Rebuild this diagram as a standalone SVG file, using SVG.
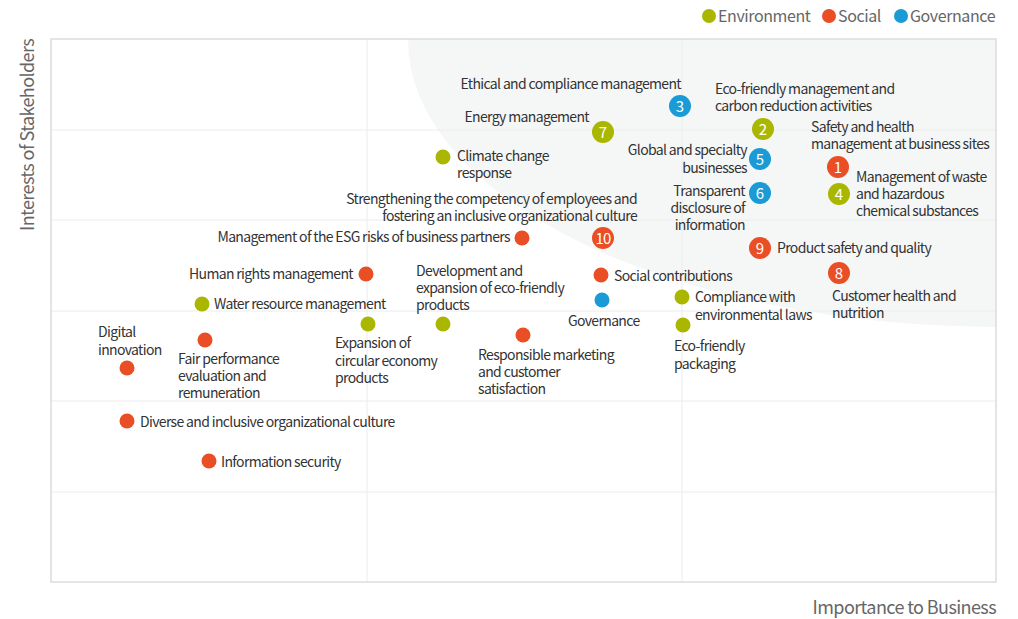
<svg xmlns="http://www.w3.org/2000/svg" width="1018" height="619" viewBox="0 0 1018 619">
<style>
text{font-family:"Noto Sans CJK KR","Noto Sans",sans-serif;}
.lb{font-size:14px;fill:#333;letter-spacing:-0.65px;}
.r{text-anchor:end;}
.num{font-size:15px;fill:#fff;text-anchor:middle;}
.e{fill:#a9b700;}
.s{fill:#e94e25;}
.g{fill:#1a9bd5;}
.ax{font-size:18px;fill:#666;letter-spacing:-0.6px;}
.lg{font-size:16px;fill:#666;letter-spacing:-0.4px;}
.grid{stroke:#ececec;stroke-width:1;fill:none;}
</style>
<defs>
<clipPath id="plot"><rect x="51" y="39" width="945" height="543"/></clipPath>
</defs>
<rect width="1018" height="619" fill="#fff"/>
<g id="background">
<ellipse cx="1000" cy="40" rx="592" ry="287" fill="#f5f7f7" clip-path="url(#plot)"/>
<g class="grid">
<line x1="367" y1="39" x2="367" y2="582"/>
<line x1="682" y1="39" x2="682" y2="582"/>
<line x1="51" y1="130" x2="996" y2="130"/>
<line x1="51" y1="220" x2="996" y2="220"/>
<line x1="51" y1="311" x2="996" y2="311"/>
<line x1="51" y1="401" x2="996" y2="401"/>
<line x1="51" y1="492" x2="996" y2="492"/>
</g>
<rect x="51" y="39" width="945" height="543" fill="none" stroke="#dcdcdc" stroke-width="1.5"/>
</g>
<g id="legend">
<circle class="e" cx="709" cy="16" r="7"/><text class="lg" x="718" y="22">Environment</text>
<circle class="s" cx="829" cy="16" r="7"/><text class="lg" x="838" y="22">Social</text>
<circle class="g" cx="901" cy="16" r="7"/><text class="lg" x="910" y="22">Governance</text>
</g>
<g id="axes">
<text class="ax" transform="translate(34,231) rotate(-90)">Interests of Stakeholders</text>
<text class="ax" x="996" y="614" style="text-anchor:end">Importance to Business</text>
</g>
<g id="connectors"></g>
<g id="n1"><circle class="s" cx="838" cy="167" r="11"/><text class="num" x="838" y="172.5">1</text>
<text class="lb" x="811" y="132">Safety and health<tspan x="811" dy="17">management at business sites</tspan></text></g>
<g id="n2"><circle class="e" cx="763" cy="129" r="11"/><text class="num" x="763" y="134.5">2</text>
<text class="lb" x="715" y="94">Eco-friendly management and<tspan x="715" dy="17">carbon reduction activities</tspan></text></g>
<g id="n3"><circle class="g" cx="680" cy="106" r="11"/><text class="num" x="680" y="111.5">3</text>
<text class="lb r" x="681" y="89">Ethical and compliance management</text></g>
<g id="n4"><circle class="e" cx="839" cy="194" r="11"/><text class="num" x="839" y="199.5">4</text>
<text class="lb" x="856" y="182">Management of waste<tspan x="856" dy="17">and hazardous</tspan><tspan x="856" dy="17">chemical substances</tspan></text></g>
<g id="n5"><circle class="g" cx="760" cy="159" r="11"/><text class="num" x="760" y="164.5">5</text>
<text class="lb r" x="747" y="155">Global and specialty<tspan x="747" dy="18">businesses</tspan></text></g>
<g id="n6"><circle class="g" cx="760" cy="193" r="11"/><text class="num" x="760" y="198.5">6</text>
<text class="lb r" x="745" y="196">Transparent<tspan x="745" dy="17">disclosure of</tspan><tspan x="745" dy="17">information</tspan></text></g>
<g id="n7"><circle class="e" cx="603" cy="132" r="11"/><text class="num" x="603" y="137.5">7</text>
<text class="lb r" x="589" y="122">Energy management</text></g>
<g id="n8"><circle class="s" cx="839" cy="273" r="11"/><text class="num" x="839" y="278.5">8</text>
<text class="lb" x="832" y="301">Customer health and<tspan x="832" dy="17">nutrition</tspan></text></g>
<g id="n9"><circle class="s" cx="760" cy="248" r="11"/><text class="num" x="760" y="253.5">9</text>
<text class="lb" x="777" y="253">Product safety and quality</text></g>
<g id="n10"><circle class="s" cx="603" cy="238" r="11"/><text class="num" x="603" y="243.5" style="letter-spacing:-0.8px">10</text>
<text class="lb r" x="637" y="204">Strengthening the competency of employees and<tspan x="637" dy="17">fostering an inclusive organizational culture</tspan></text></g>
<g id="climate"><circle class="e" cx="443" cy="157" r="7.5"/>
<text class="lb" x="457" y="161">Climate change<tspan x="457" dy="17">response</tspan></text></g>
<g id="esg-partners"><circle class="s" cx="522" cy="238" r="7.5"/>
<text class="lb r" x="510" y="242">Management of the ESG risks of business partners</text></g>
<g id="human-rights"><circle class="s" cx="366" cy="274" r="7.5"/>
<text class="lb r" x="353" y="279">Human rights management</text></g>
<g id="water"><circle class="e" cx="202" cy="304" r="7.5"/>
<text class="lb" x="214" y="309">Water resource management</text></g>
<g id="eco-products"><circle class="e" cx="443" cy="324" r="7.5"/>
<text class="lb" x="416" y="276">Development and<tspan x="416" dy="17">expansion of eco-friendly</tspan><tspan x="416" dy="17">products</tspan></text></g>
<g id="circular"><circle class="e" cx="368" cy="324" r="7.5"/>
<text class="lb" x="335" y="348">Expansion of<tspan x="335" dy="18">circular economy</tspan><tspan x="335" dy="17">products</tspan></text></g>
<g id="social-contrib"><circle class="s" cx="601" cy="275" r="7.5"/>
<text class="lb" x="614" y="281">Social contributions</text></g>
<g id="governance"><circle class="g" cx="602" cy="300" r="7.5"/>
<text class="lb" x="568" y="326">Governance</text></g>
<g id="resp-marketing"><circle class="s" cx="523" cy="335" r="7.5"/>
<text class="lb" x="478" y="360">Responsible marketing<tspan x="478" dy="17">and customer</tspan><tspan x="478" dy="17">satisfaction</tspan></text></g>
<g id="env-laws"><circle class="e" cx="682" cy="297" r="7.5"/>
<text class="lb" x="695" y="302">Compliance with<tspan x="695" dy="18">environmental laws</tspan></text></g>
<g id="eco-packaging"><circle class="e" cx="683" cy="325" r="7.5"/>
<text class="lb" x="674" y="351">Eco-friendly<tspan x="674" dy="18">packaging</tspan></text></g>
<g id="digital"><circle class="s" cx="127" cy="368" r="7.5"/>
<text class="lb" x="98" y="337">Digital<tspan x="98" dy="18">innovation</tspan></text></g>
<g id="fair-perf"><circle class="s" cx="205" cy="340" r="7.5"/>
<text class="lb" x="178" y="364">Fair performance<tspan x="178" dy="17">evaluation and</tspan><tspan x="178" dy="17">remuneration</tspan></text></g>
<g id="diverse"><circle class="s" cx="127" cy="421" r="7.5"/>
<text class="lb" x="140" y="427">Diverse and inclusive organizational culture</text></g>
<g id="info-sec"><circle class="s" cx="209" cy="461" r="7.5"/>
<text class="lb" x="221" y="467">Information security</text></g>
</svg>
